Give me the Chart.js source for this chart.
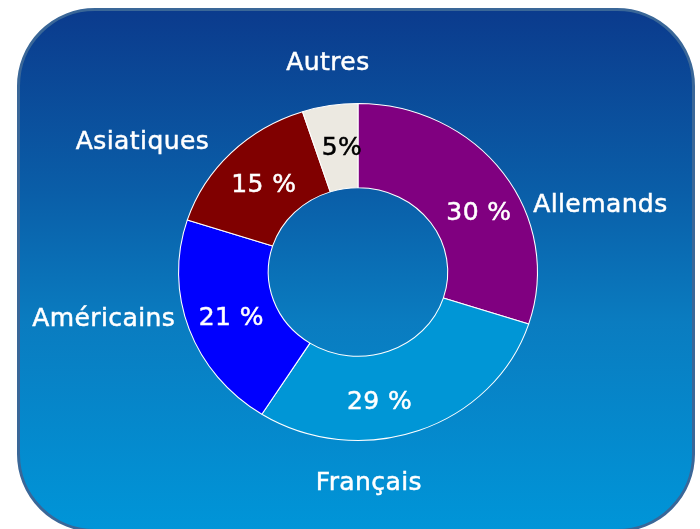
<!DOCTYPE html>
<html>
<head>
<meta charset="utf-8">
<script src="https://cdn.jsdelivr.net/npm/chart.js@4"></script>
<style>
  html, body { margin: 0; padding: 0; background: #fff; }
  body { width: 700px; height: 529px; position: relative; overflow: hidden; }
  .box {
    position: absolute; left: 17px; top: 8px; width: 672px; height: 518px;
    border: 3px solid #3a6798; border-radius: 78px;
    background: linear-gradient(to bottom, #0b3b8d 0%, #0a5ea8 35%, #0a7cc0 60%, #0095d8 100%);
  }
  #chart { position: absolute; left: 0; top: 0; }
</style>
</head>
<body>
<div class="box"></div>
<canvas id="chart" width="700" height="529"></canvas>
<script>
// Répartition par nationalité (sens horaire depuis le haut)
const categories = ['Allemands', 'Français', 'Américains', 'Asiatiques', 'Autres'];
const shares = [30, 29, 21, 15, 5];
const shareLabels = ['30 %', '29 %', '21 %', '15 %', '5%'];
const colors = ['#800080', '#0096d6', '#0000ff', '#800000', '#ece9e1'];
const shareColors = ['#fff', '#fff', '#fff', '#fff', '#000'];

const FONT = '"DejaVu Sans", sans-serif';
const X_STRETCH = 1.065;   // the original pie is slightly wider than tall

// offsets for the value and category texts, relative to the arc
const valueNudge = [[12, 16], [-24, 12], [0, 4], [1, 3], [5, 1]];
const nameNudge = [[30, 33, 'left'], [-50, 53, 'center'], [-14, -10, 'right'], [-22, -10, 'right'], [-2, -42, 'center']];

const stretchPlugin = {
  id: 'stretch',
  beforeDatasetsDraw(chart) {
    const arc = chart.getDatasetMeta(0).data[0];
    const ctx = chart.ctx;
    ctx.save();
    ctx.translate(arc.x, arc.y);
    ctx.scale(X_STRETCH, 1);
    ctx.translate(-arc.x, -arc.y);
  },
  afterDatasetsDraw(chart) {
    chart.ctx.restore();
  }
};

const labelPlugin = {
  id: 'labels',
  afterDraw(chart) {
    const ctx = chart.ctx;
    const meta = chart.getDatasetMeta(0);
    ctx.save();
    ctx.font = '25px ' + FONT;
    ctx.letterSpacing = '0.4px';
    ctx.textBaseline = 'middle';
    ctx.lineWidth = 0.5;
    meta.data.forEach((arc, i) => {
      const { x, y, startAngle, endAngle, innerRadius, outerRadius } = arc.getProps(['x', 'y', 'startAngle', 'endAngle', 'innerRadius', 'outerRadius'], true);
      const mid = (startAngle + endAngle) / 2;
      const rMid = (innerRadius + outerRadius) / 2;
      // value inside the ring
      const vx = x + Math.cos(mid) * rMid * X_STRETCH + valueNudge[i][0];
      const vy = y + Math.sin(mid) * rMid + valueNudge[i][1];
      ctx.fillStyle = ctx.strokeStyle = shareColors[i];
      ctx.textAlign = 'center';
      ctx.fillText(shareLabels[i], vx, vy);
      ctx.strokeText(shareLabels[i], vx, vy);
      // category name outside
      const ox = x + Math.cos(mid) * outerRadius * X_STRETCH + nameNudge[i][0];
      const oy = y + Math.sin(mid) * outerRadius + nameNudge[i][1];
      ctx.fillStyle = ctx.strokeStyle = '#fff';
      ctx.textAlign = nameNudge[i][2];
      ctx.fillText(categories[i], ox, oy);
      ctx.strokeText(categories[i], ox, oy);
    });
    ctx.restore();
  }
};

new Chart(document.getElementById('chart'), {
  type: 'doughnut',
  data: {
    labels: categories,
    datasets: [{
      data: shares,
      backgroundColor: colors,
      borderColor: '#ffffff',
      borderWidth: 1
    }]
  },
  options: {
    responsive: false,
    animation: false,
    cutout: '50%',
    layout: { padding: { left: 100, right: 84, top: 103, bottom: 88 } },
    plugins: {
      legend: { display: false },
      tooltip: { enabled: false }
    }
  },
  plugins: [stretchPlugin, labelPlugin]
});
</script>
</body>
</html>
